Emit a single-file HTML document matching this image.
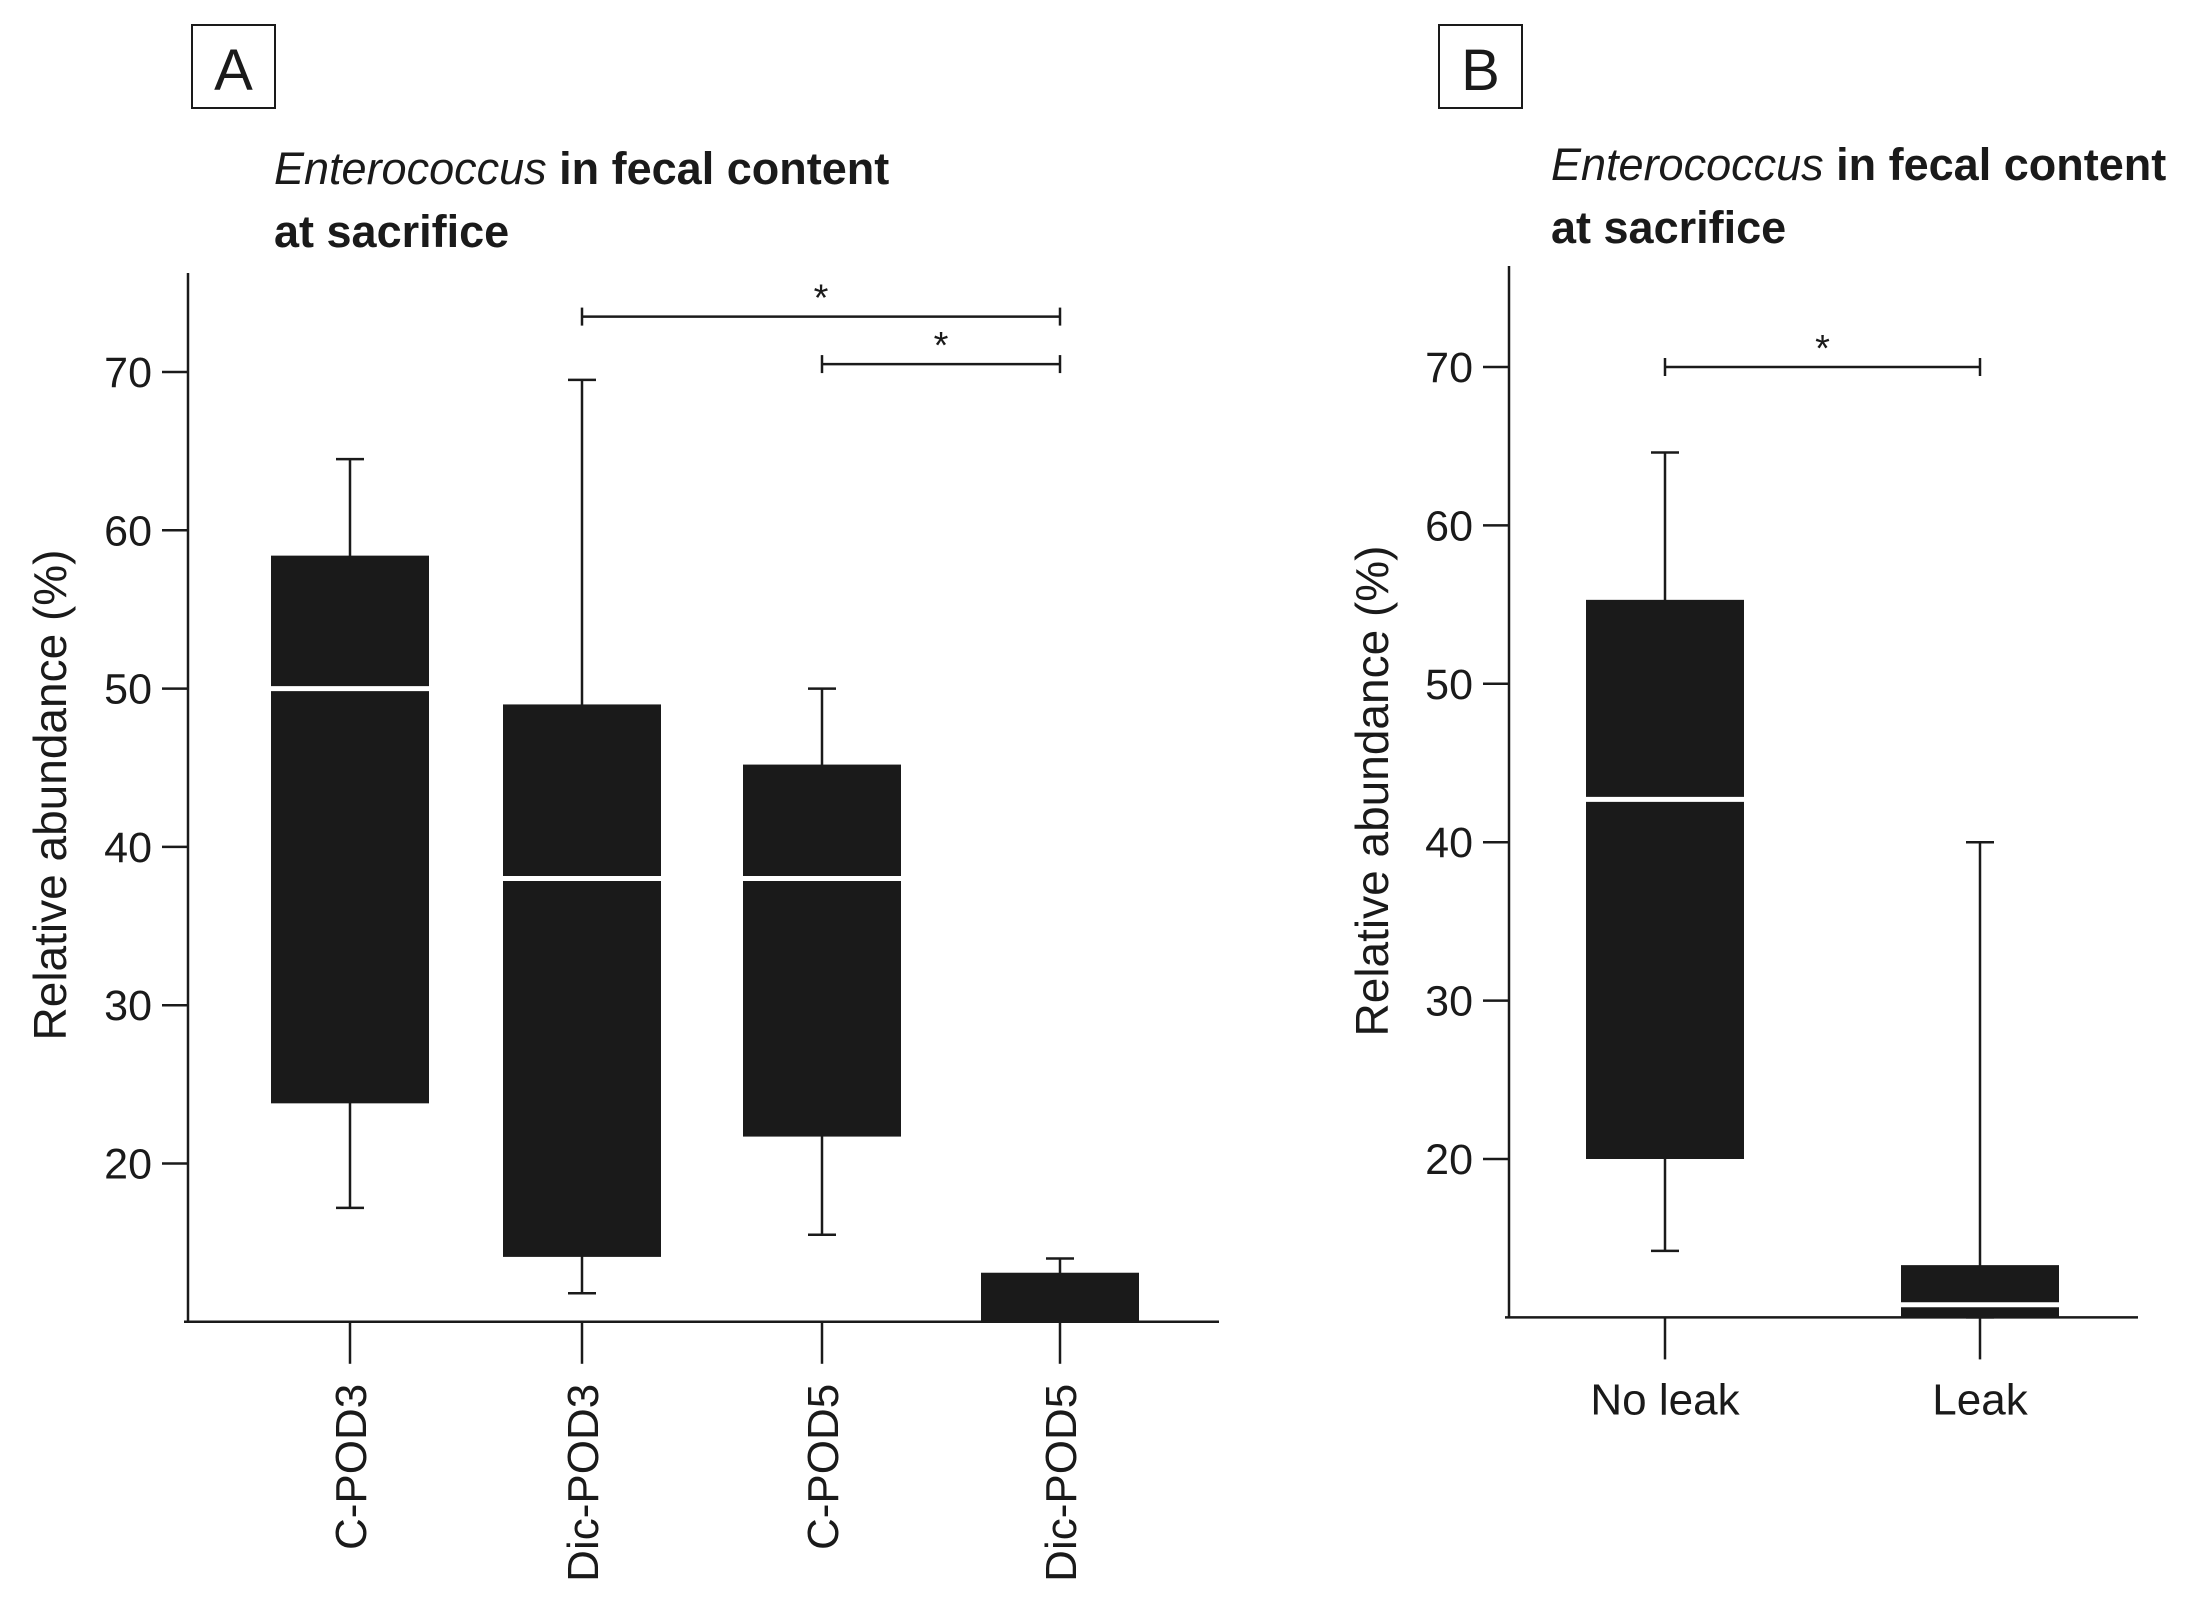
<!DOCTYPE html>
<html><head><meta charset="utf-8"><style>
html,body{margin:0;padding:0;background:#fff}
svg{display:block}
text{font-family:"Liberation Sans",sans-serif;fill:#1a1a1a}
</style></head><body>
<svg id="chart" width="2195" height="1619" viewBox="0 0 2195 1619">
<g id="gA"></g>
<g id="gB"></g>
</svg>
<script>
const catsA = ["C-POD3","Dic-POD3","C-POD5","Dic-POD5"];
const minA = [17.2, 11.8, 15.5, 10];
const q1A = [23.8, 14.1, 21.7, 10];
const medA = [50, 38, 38, 10];
const q3A = [58.4, 49, 45.2, 13.1];
const maxA = [64.5, 69.5, 50, 14];
const catsB = ["No leak","Leak"];
const minB = [14.2, 10];
const q1B = [20, 10];
const medB = [42.7, 10.8];
const q3B = [55.3, 13.3];
const maxB = [64.6, 40];
const ticks = [20,30,40,50,60,70];

const NS="http://www.w3.org/2000/svg";
function mk(parent,tag,attrs,txt){const e=document.createElementNS(NS,tag);for(const k in attrs)e.setAttribute(k,attrs[k]);if(txt!==undefined)e.textContent=txt;parent.appendChild(e);return e;}

function panel(g,cfg){
  const y=v=>cfg.y70+(70-v)*cfg.per;
  const x=i=>cfg.xs[i];
  let r=mk(g,'rect',{x:cfg.lx,y:25,width:83,height:83,fill:'none',stroke:'#1a1a1a','stroke-width':2});
  
  let t=mk(g,'text',{x:cfg.lx+41.5,y:90,'font-size':58,'text-anchor':'middle'},cfg.letter);
  
  let ti=mk(g,'text',{x:cfg.tx,y:cfg.ty,'font-size':45,'font-weight':'bold'});
  
  mk(ti,'tspan',{'font-style':'italic','font-weight':'normal'},'Enterococcus');
  mk(ti,'tspan',{},' in fecal content');
  let t2=mk(g,'text',{x:cfg.tx,y:cfg.ty+63,'font-size':45,'font-weight':'bold'},'at sacrifice');
  
  let ya=mk(g,'line',{x1:cfg.ax,y1:cfg.axTop,x2:cfg.ax,y2:y(10),stroke:'#1a1a1a','stroke-width':2.5});
  
  let xa=mk(g,'line',{x1:cfg.ax-4,y1:y(10),x2:cfg.axRight,y2:y(10),stroke:'#1a1a1a','stroke-width':2.5});
  
  ticks.forEach(v=>{
    let l=mk(g,'line',{x1:cfg.ax-26,y1:y(v),x2:cfg.ax,y2:y(v),stroke:'#1a1a1a','stroke-width':2.5});
    
    let tl=mk(g,'text',{x:cfg.ax-36,y:y(v)+15,'font-size':43,'text-anchor':'end'},String(v));
    
  });
  let yl=mk(g,'text',{x:0,y:0,'font-size':46,'text-anchor':'middle',transform:`translate(${cfg.ylx},${cfg.yly}) rotate(-90)`},'Relative abundance  (%)');
  
  cfg.cats.forEach((c,i)=>{
    const cx=x(i),hw=79,cap=14;
    let wg=mk(g,'g',{});
    mk(wg,'line',{x1:cx,y1:y(cfg.max[i]),x2:cx,y2:y(cfg.min[i]),stroke:'#1a1a1a','stroke-width':2.5});
    mk(wg,'line',{x1:cx-cap,y1:y(cfg.max[i]),x2:cx+cap,y2:y(cfg.max[i]),stroke:'#1a1a1a','stroke-width':2.5});
    mk(wg,'line',{x1:cx-cap,y1:y(cfg.min[i]),x2:cx+cap,y2:y(cfg.min[i]),stroke:'#1a1a1a','stroke-width':2.5});
    mk(wg,'rect',{x:cx-hw,y:y(cfg.q3[i]),width:2*hw,height:y(cfg.q1[i])-y(cfg.q3[i]),fill:'#1a1a1a'});
    if(cfg.med[i]>cfg.q1[i]) mk(wg,'line',{x1:cx-hw,y1:y(cfg.med[i]),x2:cx+hw,y2:y(cfg.med[i]),stroke:'#fff','stroke-width':5});
    let tk=mk(g,'line',{x1:cx,y1:y(10),x2:cx,y2:y(10)+42,stroke:'#1a1a1a','stroke-width':2.5});
    
    let lab;
    if(cfg.rot) lab=mk(g,'text',{x:0,y:0,'font-size':44,'text-anchor':'end',transform:`translate(${cx+16},${y(10)+62}) rotate(-90)`},c);
    else lab=mk(g,'text',{x:cx,y:y(10)+97,'font-size':44,'text-anchor':'middle'},c);
    
  });
  cfg.sig.forEach(s=>{
    const x1=x(s[0]),x2=x(s[1]),yy=y(s[2]);
    let sg=mk(g,'g',{});
    mk(sg,'line',{x1:x1,y1:yy,x2:x2,y2:yy,stroke:'#1a1a1a','stroke-width':2.5});
    mk(sg,'line',{x1:x1,y1:yy-9,x2:x1,y2:yy+9,stroke:'#1a1a1a','stroke-width':2.5});
    mk(sg,'line',{x1:x2,y1:yy-9,x2:x2,y2:yy+9,stroke:'#1a1a1a','stroke-width':2.5});
    mk(sg,'text',{x:(x1+x2)/2,y:yy-6,'font-size':38,'text-anchor':'middle'},'*');
  });
}
panel(document.getElementById('gA'),{letter:'A',lx:192,tx:274,ty:184,ax:188,axTop:273,axRight:1219,y70:372,per:15.83,
  xs:[350,582,822,1060],cats:catsA,min:minA,q1:q1A,med:medA,q3:q3A,max:maxA,rot:true,ylx:66,yly:795,
  sig:[[1,3,73.5],[2,3,70.5]]});
panel(document.getElementById('gB'),{letter:'B',lx:1439,tx:1551,ty:180,ax:1509,axTop:266,axRight:2138,y70:367,per:15.84,
  xs:[1665,1980],cats:catsB,min:minB,q1:q1B,med:medB,q3:q3B,max:maxB,rot:false,ylx:1388,yly:791,
  sig:[[0,1,70]]});
</script>
</body></html>
